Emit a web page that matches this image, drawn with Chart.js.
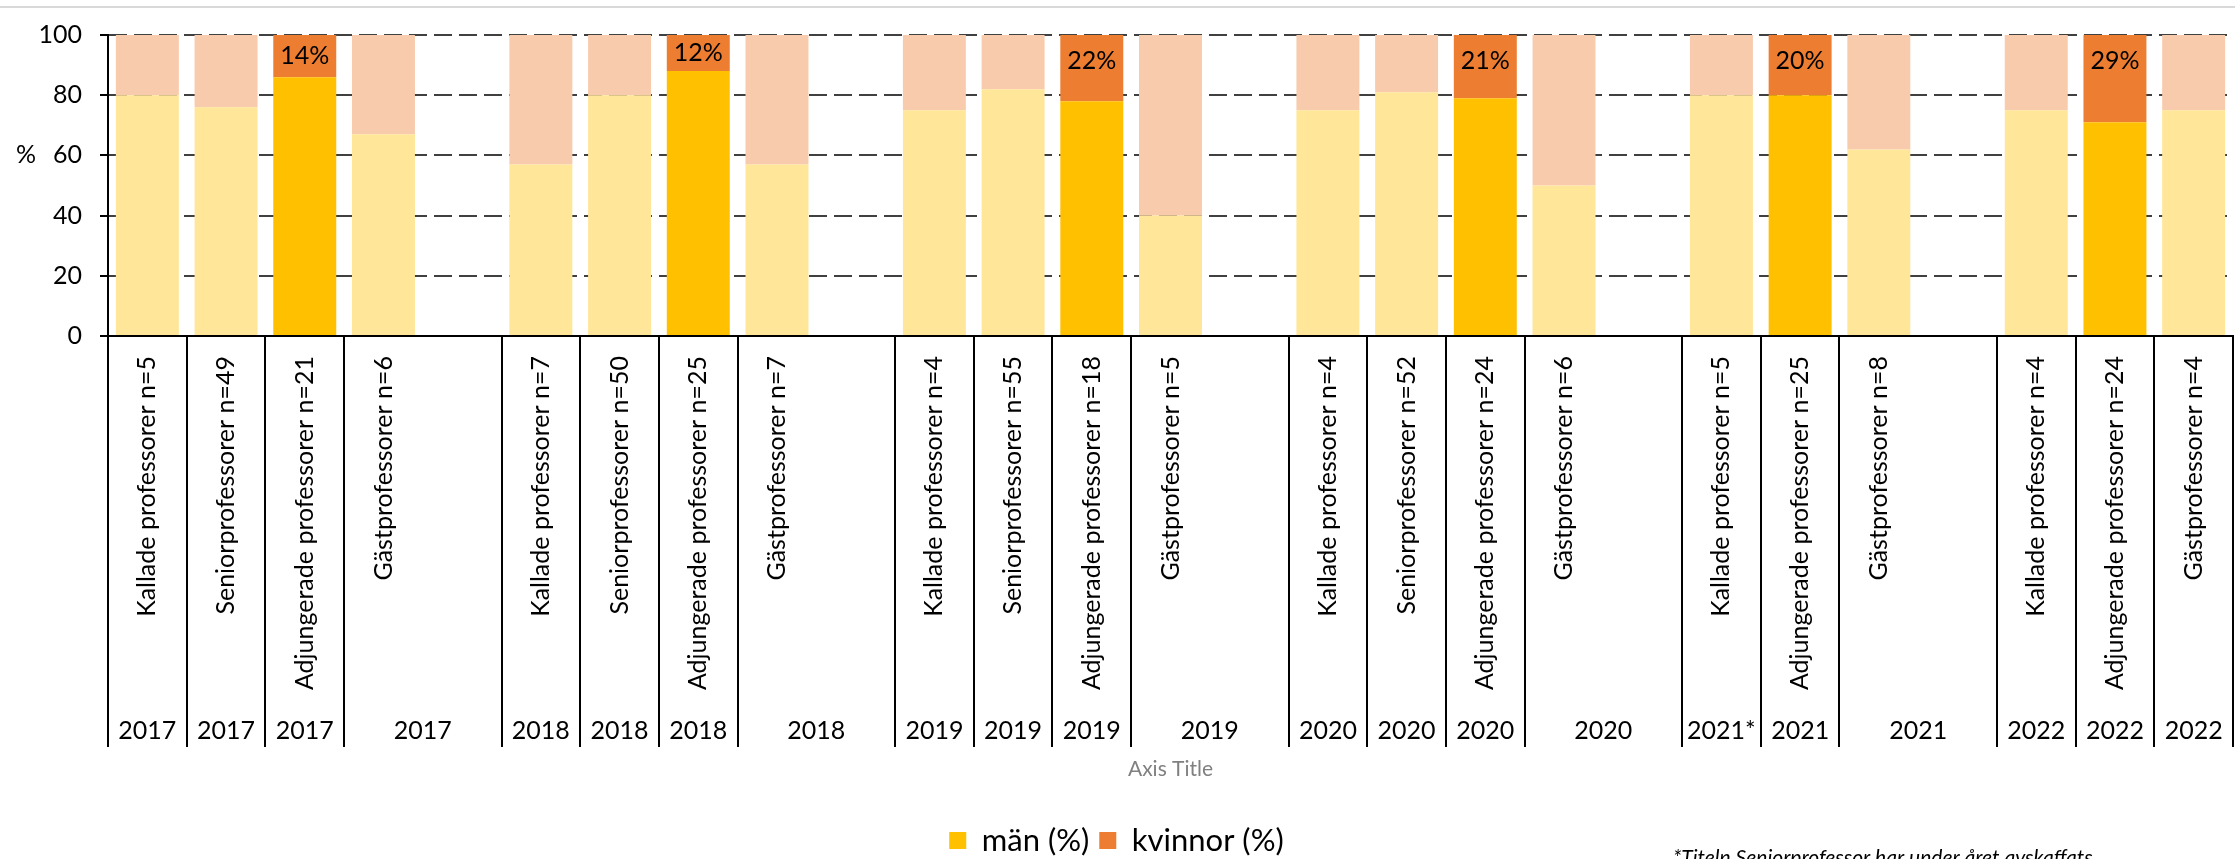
<!DOCTYPE html>
<html>
<head>
<meta charset="utf-8">
<script src="https://cdn.jsdelivr.net/npm/chart.js@4"></script>
<style>
  html, body { margin: 0; padding: 0; background: #fff; }
  #wrap { width: 2235px; height: 859px; }
</style>
</head>
<body>
<div id="wrap"><canvas id="chart" width="2235" height="859"></canvas></div>
<script>
// inner categories, '' = empty spacer slot
var categories = [
    'Kallade professorer n=5', 'Seniorprofessorer n=49', 'Adjungerade professorer n=21', 'Gästprofessorer n=6', '',
    'Kallade professorer n=7', 'Seniorprofessorer n=50', 'Adjungerade professorer n=25', 'Gästprofessorer n=7', '',
    'Kallade professorer n=4', 'Seniorprofessorer n=55', 'Adjungerade professorer n=18', 'Gästprofessorer n=5', '',
    'Kallade professorer n=4', 'Seniorprofessorer n=52', 'Adjungerade professorer n=24', 'Gästprofessorer n=6', '',
    'Kallade professorer n=5', 'Adjungerade professorer n=25', 'Gästprofessorer n=8', '',
    'Kallade professorer n=4', 'Adjungerade professorer n=24', 'Gästprofessorer n=4'
];
// outer categories, '' = same cell as the one before
var years = [
    '2017', '2017', '2017', '2017', '',
    '2018', '2018', '2018', '2018', '',
    '2019', '2019', '2019', '2019', '',
    '2020', '2020', '2020', '2020', '',
    '2021*', '2021', '2021', '',
    '2022', '2022', '2022'
];
var men = [
    80, 76, 86, 67, null,
    57, 80, 88, 57, null,
    75, 82, 78, 40, null,
    75, 81, 79, 50, null,
    80, 80, 62, null,
    75, 71, 75
];
var women = [
    20, 24, 14, 33, null,
    43, 20, 12, 43, null,
    25, 18, 22, 60, null,
    25, 19, 21, 50, null,
    20, 20, 38, null,
    25, 29, 25
];
var seriesNames = ['män (%)', 'kvinnor (%)'];
var yTitle = '%';
var xTitle = 'Axis Title';
var footnote = '*Titeln Seniorprofessor har under året avskaffats';

var strongColors = ['#FFC000', '#ED7D31'];
var paleColors = ['#FFE699', '#F8CBAD'];
var FONT = 'Lato, "Liberation Sans", sans-serif';

function isHighlighted(i) {
    return categories[i].indexOf('Adjungerade') === 0;
}

function barColors(s) {
    var out = [];
    for (var i = 0; i < categories.length; i++) {
        out.push(isHighlighted(i) ? strongColors[s] : paleColors[s]);
    }
    return out;
}

// draws the two level category axis, the % title, data labels and the footnote
var extrasPlugin = {
    id: 'extras',
    beforeDraw: function(chart) {
        var ctx = chart.ctx;
        ctx.save();
        ctx.strokeStyle = '#d9d9d9';
        ctx.lineWidth = 2;
        ctx.beginPath();
        ctx.moveTo(0, 7);
        ctx.lineTo(chart.width, 7);
        ctx.stroke();
        ctx.restore();
    },
    afterDatasetsDraw: function(chart) {
        var ctx = chart.ctx;
        var meta = chart.getDatasetMeta(1);
        ctx.save();
        ctx.fillStyle = '#000';
        ctx.font = '25px ' + FONT;
        ctx.textAlign = 'center';
        ctx.textBaseline = 'middle';
        for (var i = 0; i < women.length; i++) {
            if (!isHighlighted(i) || women[i] === null) continue;
            var el = meta.data[i];
            var cy = Math.min((el.y + el.base) / 2, el.y + 26);
            ctx.fillText(women[i] + '%', el.x, cy);
        }
        ctx.restore();
    },
    afterDraw: function(chart) {
        var ctx = chart.ctx;
        var x = chart.scales.x, y = chart.scales.y;
        var top = chart.chartArea.bottom;
        var bottom = top + 411;
        var half = (x.getPixelForValue(1) - x.getPixelForValue(0)) / 2;
        var n = categories.length;

        ctx.save();
        ctx.strokeStyle = '#000';
        ctx.lineWidth = 2;
        ctx.beginPath();
        for (var i = 0; i < n; i++) {
            if (years[i] !== '') {
                var lx = Math.round(x.getPixelForValue(i) - half);
                ctx.moveTo(lx, top);
                ctx.lineTo(lx, bottom);
            }
        }
        var rx = Math.round(x.getPixelForValue(n - 1) + half);
        ctx.moveTo(rx, top);
        ctx.lineTo(rx, bottom);
        ctx.stroke();

        ctx.fillStyle = '#000';
        ctx.font = '25px ' + FONT;

        // inner labels, rotated
        ctx.textAlign = 'right';
        ctx.textBaseline = 'middle';
        for (var i = 0; i < n; i++) {
            if (!categories[i]) continue;
            ctx.save();
            ctx.translate(x.getPixelForValue(i), top + 20);
            ctx.rotate(-Math.PI / 2);
            ctx.fillText(categories[i], 0, 0);
            ctx.restore();
        }

        // outer labels
        ctx.textAlign = 'center';
        ctx.textBaseline = 'alphabetic';
        for (var i = 0; i < n; i++) {
            if (years[i] === '') continue;
            var j = i + 1;
            while (j < n && years[j] === '') j++;
            var cx = (x.getPixelForValue(i) + x.getPixelForValue(j - 1)) / 2;
            ctx.fillText(years[i], cx, top + 403);
        }

        // y title, horizontal
        ctx.textBaseline = 'middle';
        ctx.fillText(yTitle, 26, y.getPixelForValue(60));

        // footnote
        ctx.textAlign = 'left';
        ctx.textBaseline = 'alphabetic';
        ctx.font = 'italic 21px ' + FONT;
        ctx.fillText(footnote, 1673, 865);
        ctx.restore();
    }
};

var chart = new Chart(document.getElementById('chart'), {
    type: 'bar',
    data: {
        labels: categories,
        datasets: [
            { label: seriesNames[0], data: men, backgroundColor: barColors(0), borderWidth: 0 },
            { label: seriesNames[1], data: women, backgroundColor: barColors(1), borderWidth: 0 }
        ]
    },
    options: {
        responsive: false,
        animation: false,
        datasets: { bar: { categoryPercentage: 1, barPercentage: 0.8 } },
        layout: { padding: { top: 35, right: 2, bottom: -7, left: 0 } },
        plugins: {
            legend: {
                position: 'bottom',
                labels: {
                    boxWidth: 17,
                    boxHeight: 17,
                    padding: 10,
                    color: '#000',
                    font: { family: FONT, size: 31 },
                    generateLabels: function(chart) {
                        return chart.data.datasets.map(function(ds, i) {
                            return {
                                text: ds.label,
                                fillStyle: strongColors[i],
                                strokeStyle: strongColors[i],
                                lineWidth: 0,
                                hidden: false,
                                datasetIndex: i,
                                fontColor: '#000'
                            };
                        });
                    }
                }
            },
            tooltip: { enabled: false }
        },
        scales: {
            x: {
                stacked: true,
                grid: { display: false },
                border: { color: '#000', width: 2 },
                ticks: { display: false },
                title: {
                    display: true,
                    text: xTitle,
                    color: '#808080',
                    font: { family: FONT, size: 21 },
                    padding: { top: 0, bottom: 33 }
                },
                afterFit: function(s) { s.height = 479; }
            },
            y: {
                stacked: true,
                min: 0,
                max: 100,
                ticks: { stepSize: 20, padding: 18, color: '#000', font: { family: FONT, size: 25 } },
                grid: { color: '#404040', lineWidth: 2, tickLength: 8, tickColor: '#000', tickWidth: 2, tickBorderDash: [] },
                border: { color: '#000', width: 2, dash: [18, 7] },
                afterFit: function(s) { s.width = 108; }
            }
        }
    },
    plugins: [extrasPlugin]
});
</script>
</body>
</html>
